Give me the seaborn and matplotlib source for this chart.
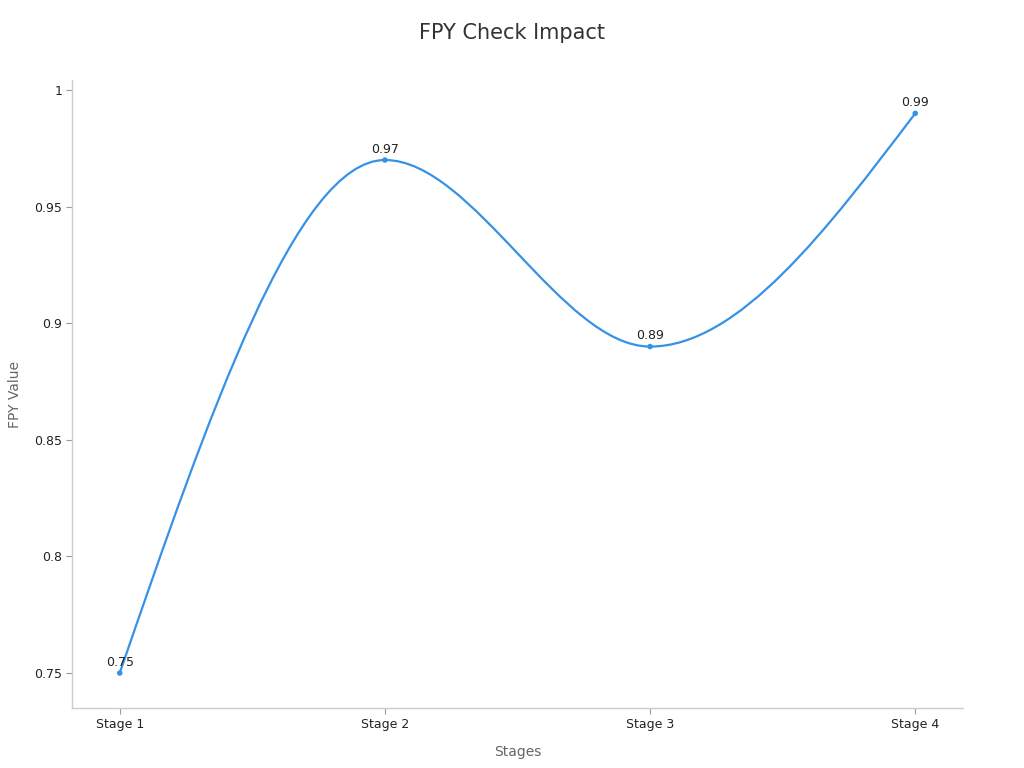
import numpy as np
import pandas as pd
import matplotlib
matplotlib.use("Agg")
import matplotlib.pyplot as plt
from matplotlib.path import Path
from matplotlib.patches import PathPatch
import seaborn as sns

stages = ["Stage 1", "Stage 2", "Stage 3", "Stage 4"]
fpy_values = [0.75, 0.97, 0.89, 0.99]
y_ticks = [0.75, 0.8, 0.85, 0.9, 0.95, 1.0]
y_tick_labels = ["0.75", "0.8", "0.85", "0.9", "0.95", "1"]

line_color = "#3592e6"

sns.set_style("white")
plt.rcParams["font.family"] = ["DejaVu Sans"]

df = pd.DataFrame({"stage": stages, "fpy": fpy_values})
df["pos"] = np.arange(len(df))

fig = plt.figure(figsize=(10.24, 7.68), dpi=100)
ax = fig.add_axes([0.0703, 0.0781, 0.8701, 0.8177])

# monotone cubic (like d3 curveMonotoneX) drawn as Bezier segments
xs = df["pos"].to_numpy(dtype=float)
ys = df["fpy"].to_numpy(dtype=float)
h = np.diff(xs)
s = np.diff(ys) / h
t = np.zeros(len(xs))
for i in range(1, len(xs) - 1):
    if s[i - 1] * s[i] > 0:
        p = (s[i - 1] * h[i] + s[i] * h[i - 1]) / (h[i - 1] + h[i])
        t[i] = (np.sign(s[i - 1]) + np.sign(s[i])) * min(abs(s[i - 1]), abs(s[i]), 0.5 * abs(p))
t[0] = (3 * s[0] - t[1]) / 2
t[-1] = (3 * s[-1] - t[-2]) / 2
verts = [(xs[0], ys[0])]
codes = [Path.MOVETO]
for i in range(len(xs) - 1):
    dx = h[i] / 3
    verts += [(xs[i] + dx, ys[i] + t[i] * dx),
              (xs[i + 1] - dx, ys[i + 1] - t[i + 1] * dx),
              (xs[i + 1], ys[i + 1])]
    codes += [Path.CURVE4] * 3
ax.add_patch(PathPatch(Path(verts, codes), facecolor="none", edgecolor=line_color, lw=1.6))

sns.scatterplot(data=df, x="pos", y="fpy", ax=ax, color=line_color, s=16,
                edgecolor="none", zorder=3, legend=False)

for _, r in df.iterrows():
    ax.annotate(f"{r['fpy']:g}", (r["pos"], r["fpy"]), xytext=(0, 3),
                textcoords="offset points", ha="center", va="bottom",
                fontsize=9, color="#222222")

ax.set_xlim(-0.18, 3.18)
ax.set_ylim(0.735, 1.0043)
ax.set_xticks(df["pos"])
ax.set_xticklabels(stages)
ax.set_yticks(y_ticks)
ax.set_yticklabels(y_tick_labels)
ax.tick_params(axis="both", labelsize=9, colors="#222222", length=4,
               color="#999999", width=0.8, pad=3, bottom=True, left=True)

for side in ["top", "right"]:
    ax.spines[side].set_visible(False)
for side in ["left", "bottom"]:
    ax.spines[side].set_color("#cccccc")
    ax.spines[side].set_linewidth(1)

ax.set_xlabel("Stages", fontsize=10, color="#666666", labelpad=10)
ax.set_ylabel("FPY Value", fontsize=10, color="#666666", labelpad=9)
fig.text(0.5, 0.957, "FPY Check Impact", ha="center", va="center",
         fontsize=15, color="#333333")

plt.savefig("out.png", dpi=100)
plt.close()
